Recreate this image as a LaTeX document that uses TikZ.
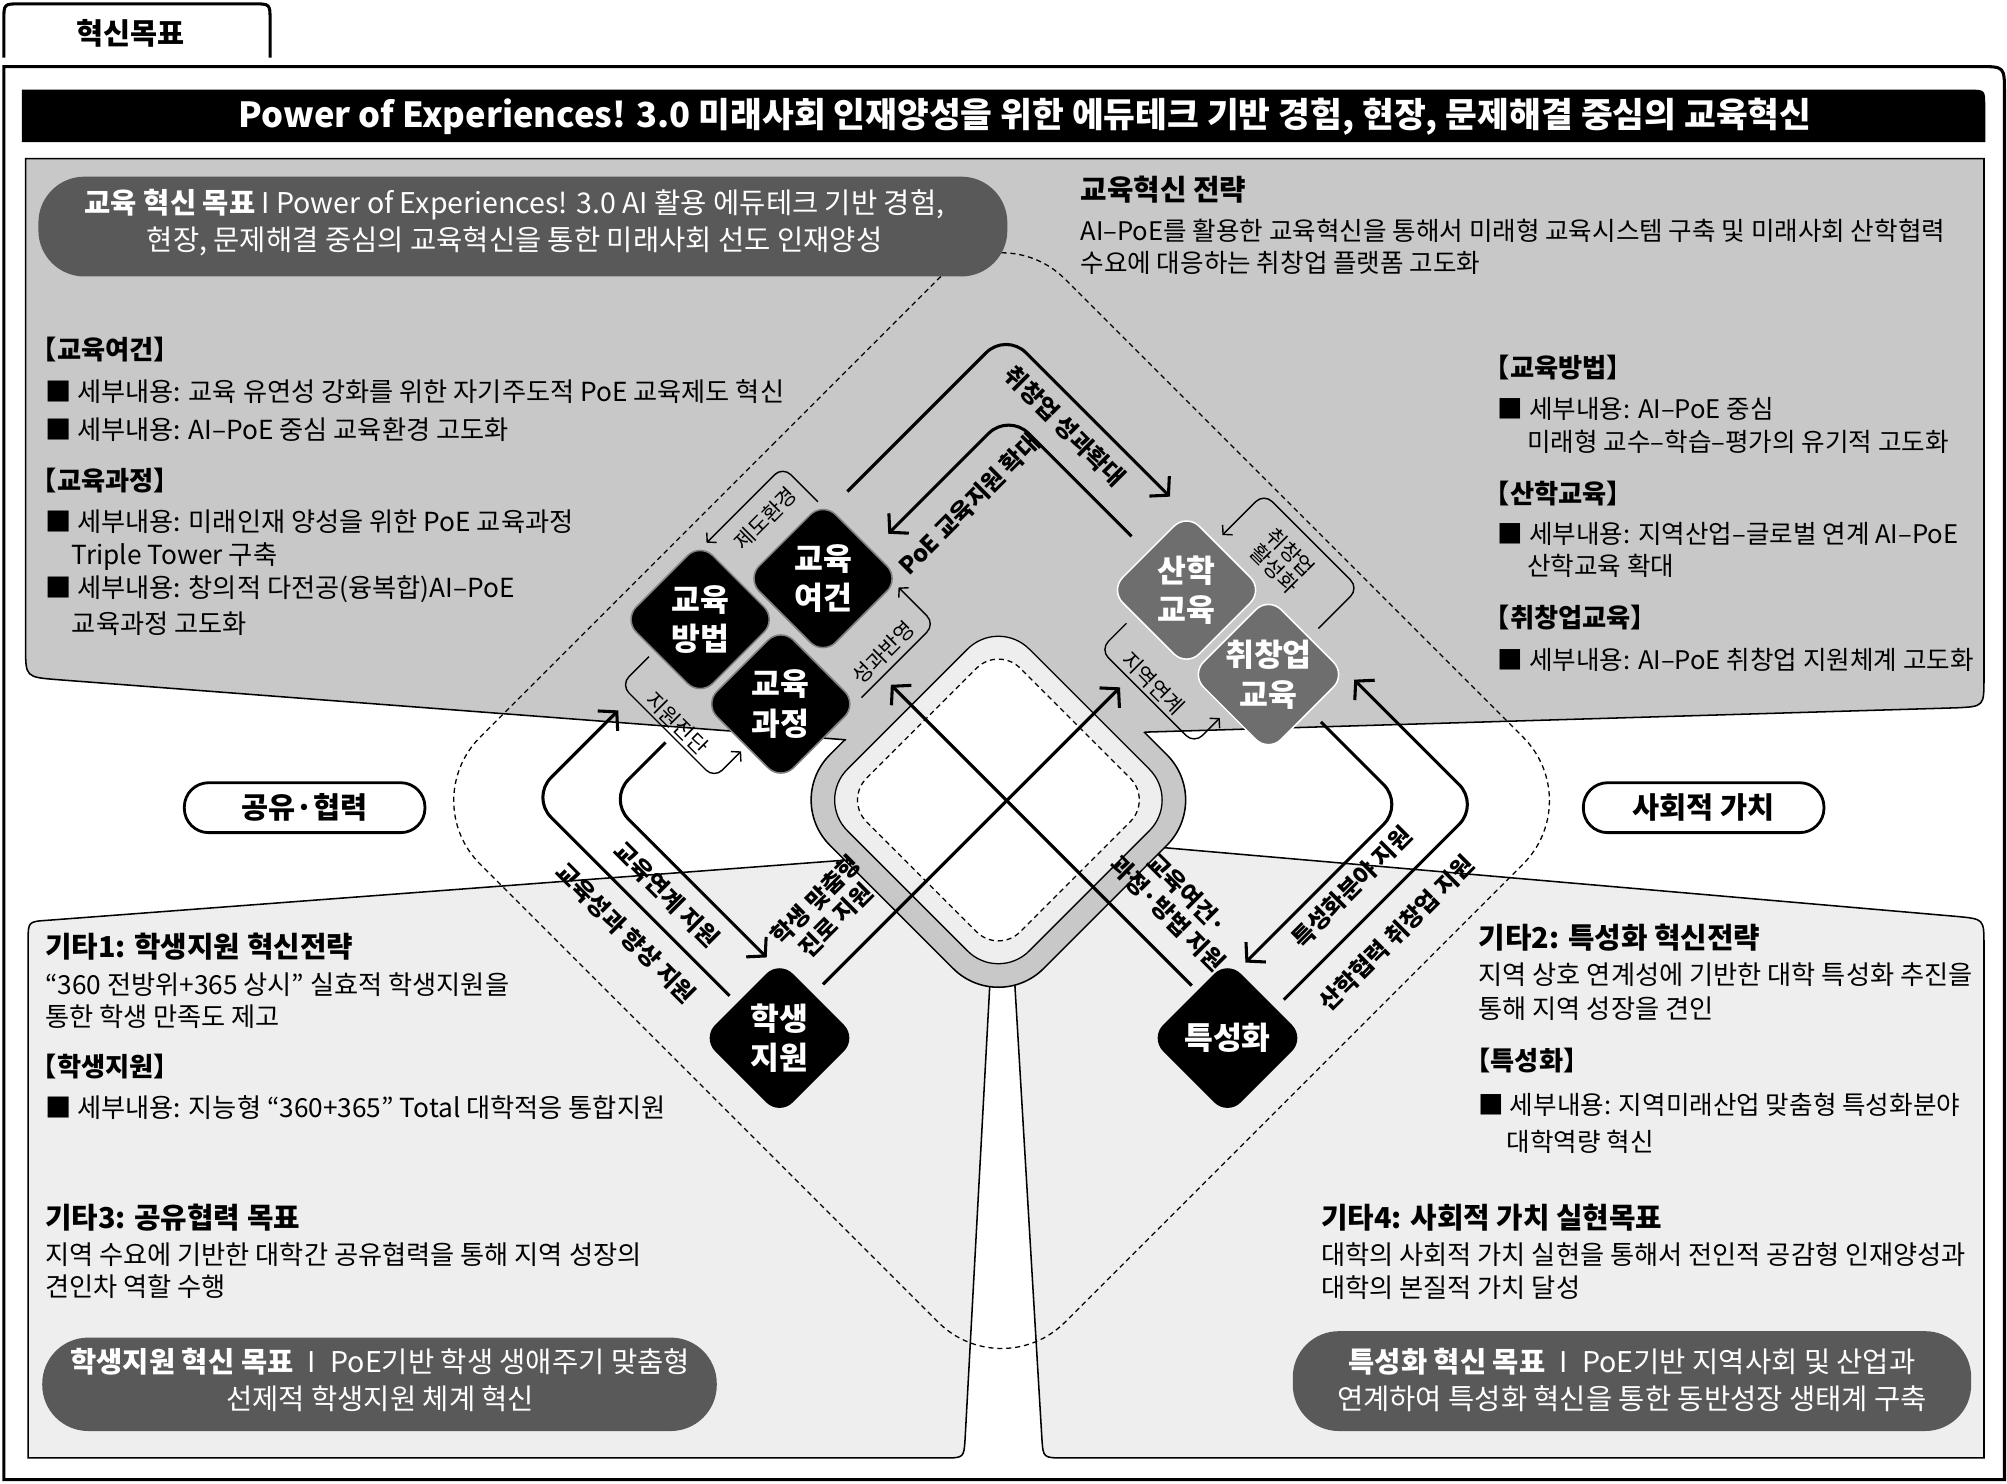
\documentclass[tikz,border=0pt]{standalone}
\usepackage{fontspec}
\setmainfont{Noto Sans CJK KR}
\usetikzlibrary{shapes.geometric,arrows.meta}

\definecolor{topgray}{HTML}{C8C8C8}
\definecolor{lowgray}{HTML}{EEEEEE}
\definecolor{pillgray}{HTML}{595959}
\definecolor{boxgray}{HTML}{6E6E6E}

% rounded square standing on a corner: centre x, centre y, half diagonal
\newcommand\rdia[3]{(#1-#3/2,#2-#3/2) -- (#1,#2-#3) -- (#1+#3,#2) -- (#1,#2+#3) -- (#1-#3,#2) -- cycle}

\tikzset{
  txt/.style={anchor=base west, inner sep=0pt, font=\fontsize{20.5}{24}\selectfont},
  rtxt/.style={txt, font=\fontsize{20}{24}\selectfont},
  hd/.style={anchor=base west, inner sep=0pt, font=\fontsize{20.5}{24}\selectfont\bfseries},
  hdb/.style={hd, font=\fontsize{22.5}{26}\selectfont\bfseries},
  box/.style={diamond, aspect=1, minimum size=120pt, inner sep=0pt, rounded corners=14pt,
    line width=1.2pt, fill=black, draw=gray, text=white, align=center,
    font=\fontsize{24.5}{31}\selectfont\bfseries},
  gbox/.style={box, fill=boxgray, draw=white},
  flow/.style={line width=2.4pt, rounded corners=22pt, -{Straight Barb[length=10pt,width=22pt]}},
  loopback/.style={line width=1.1pt, rounded corners=9pt, -{Straight Barb[length=5pt,width=11pt]}},
  flab/.style={inner sep=0pt, align=center, font=\fontsize{18.5}{22}\selectfont\bfseries},
  llab/.style={inner sep=0pt, align=center, font=\fontsize{16.5}{18}\selectfont},
  pill/.style={fill=pillgray, rounded corners=36pt},
  ptxt/.style={inner sep=0pt, text=white, align=center, font=\fontsize{22.3}{29}\selectfont},
  tag/.style={draw, line width=2.2pt, fill=white, rounded corners=19pt, minimum width=188pt,
    minimum height=39pt, font=\fontsize{23}{26}\selectfont\bfseries},
}

\begin{document}
\begin{tikzpicture}[x=1pt,y=-1pt]
\useasboundingbox (0,0) rectangle (1568,1159);

% lower panels
\draw[fill=lowgray, line width=1.2pt] (22,1139) -- (22,735) .. controls (22,720) .. (37,719) -- (700,669) -- (775,738) -- (754,1124) .. controls (753,1139) .. (738,1139) -- cycle;
\draw[fill=lowgray, line width=1.2pt] (831,1139) .. controls (815,1139) .. (814,1124) -- (791,738) -- (860,662) -- (895,661) -- (1529,716) .. controls (1550,718) .. (1550,738) -- (1550,1139) -- cycle;

% upper panel with its funnel
\fill[topgray] (661,578) -- (45,531) .. controls (20,529) .. (20,506) -- (20,124) -- (1550,124) -- (1550,530) .. controls (1550,552) .. (1528,553) -- (894,572) -- cycle;
\fill[topgray, rounded corners=50pt] \rdia{780}{625}{167};
\draw[line width=1.2pt] (661,578) -- (45,531) .. controls (20,529) .. (20,506) -- (20,124) -- (1550,124) -- (1550,530) .. controls (1550,552) .. (1528,553) -- (894,572);
\begin{scope}
\clip (0,578) -- (661,578) -- (894,572) -- (1568,572) -- (1568,1159) -- (0,1159) -- cycle;
\draw[line width=1.2pt, rounded corners=50pt] \rdia{780}{625}{167};
\end{scope}
\draw[fill=lowgray, line width=1pt, rounded corners=34pt] \rdia{780}{625}{142};
\draw[fill=white, line width=1pt, dash pattern=on 4pt off 3pt, rounded corners=24pt] \rdia{780}{625}{120};

% big dashed frame round the diamonds
\draw[line width=1pt, dash pattern=on 4pt off 3pt, rounded corners=70pt] \rdia{782.5}{625.5}{457};

% frame, tab, title
\draw[line width=2.4pt] (3,52) -- (1546,52) .. controls (1566,52) .. (1566,72) -- (1566,1156) -- (3,1156) -- cycle;
\draw[line width=2.4pt] (3,45) -- (3,16) .. controls (3,3) .. (16,3) -- (198,3) .. controls (211,3) .. (211,16) -- (211,45);
\node[font=\fontsize{23}{26}\selectfont\bfseries] (tab) at (102,26) {혁신목표};
\fill (17,70) -- (1538,70) .. controls (1551,70) .. (1551,83) -- (1551,111) -- (17,111) -- cycle;
\node[text=white, font=\fontsize{27}{30}\selectfont\bfseries] (title) at (801,91) {Power of Experiences! 3.0 미래사회 인재양성을 위한 에듀테크 기반 경험, 현장, 문제해결 중심의 교육혁신};

% goal pills
\fill[pill] (30,138) rectangle (787,216);
\node[ptxt] (goal) at (402,174) {{\bfseries 교육 혁신 목표} I Power of Experiences! 3.0 AI 활용 에듀테크 기반 경험,\\현장, 문제해결 중심의 교육혁신을 통한 미래사회 선도 인재양성};
\fill[pill] (33,1045) rectangle (560,1118);
\node[ptxt] (goalst) at (297,1078) {{\bfseries 학생지원 혁신 목표}\enspace I\enspace PoE기반 학생 생애주기 맞춤형\\선제적 학생지원 체계 혁신};
\fill[pill] (1010,1040) rectangle (1540,1118);
\node[ptxt] (goalsp) at (1275,1078) {{\bfseries 특성화 혁신 목표}\enspace I\enspace PoE기반 지역사회 및 산업과\\연계하여 특성화 혁신을 통한 동반성장 생태계 구축};

\node[tag] (share) at (238,631) {공유·협력};
\node[tag] (social) at (1331,631) {사회적 가치};

% upper texts
\node[hdb] (stratH) at (844,157) {교육혁신 전략};
\node[rtxt] (strat1) at (844,188) {AI–PoE를 활용한 교육혁신을 통해서 미래형 교육시스템 구축 및 미래사회 산학협력};
\node[rtxt] (strat2) at (844,213) {수요에 대응하는 취창업 플랫폼 고도화};
\node[hd] (envH) at (24,281) {【교육여건】};
\node[txt] (env1) at (35,314) {■ 세부내용: 교육 유연성 강화를 위한 자기주도적 PoE 교육제도 혁신};
\node[txt] (env2) at (35,343) {■ 세부내용: AI–PoE 중심 교육환경 고도화};
\node[hd] (curH) at (24,383) {【교육과정】};
\node[txt] (cur1) at (35,415) {■ 세부내용: 미래인재 양성을 위한 PoE 교육과정};
\node[txt] (cur1b) at (56,441) {Triple Tower 구축};
\node[txt] (cur2) at (35,467) {■ 세부내용: 창의적 다전공(융복합)AI–PoE};
\node[txt] (cur2b) at (56,495) {교육과정 고도화};
\node[hd] (metH) at (1159,295) {【교육방법】};
\node[rtxt] (met1) at (1170,327) {■ 세부내용: AI–PoE 중심};
\node[rtxt] (met1b) at (1193,353) {미래형 교수–학습–평가의 유기적 고도화};
\node[hd] (indH) at (1159,393) {【산학교육】};
\node[rtxt] (ind1) at (1170,425) {■ 세부내용: 지역산업–글로벌 연계 AI–PoE};
\node[rtxt] (ind1b) at (1193,450) {산학교육 확대};
\node[hd] (jobH) at (1159,490) {【취창업교육】};
\node[rtxt] (job1) at (1170,523) {■ 세부내용: AI–PoE 취창업 지원체계 고도화};

% lower texts
\node[hdb] (st1H) at (35,748) {기타1: 학생지원 혁신전략};
\node[txt] (st1a) at (35,777) {“360 전방위+365 상시” 실효적 학생지원을};
\node[txt] (st1b) at (35,802) {통한 학생 만족도 제고};
\node[hd] (stH) at (24,841) {【학생지원】};
\node[txt] (st1c) at (35,873) {■ 세부내용: 지능형 “360+365” Total 대학적응 통합지원};
\node[hdb] (co3H) at (35,960) {기타3: 공유협력 목표};
\node[txt] (co3a) at (35,988) {지역 수요에 기반한 대학간 공유협력을 통해 지역 성장의};
\node[txt] (co3b) at (35,1013) {견인차 역할 수행};
\node[hdb] (sp2H) at (1155,741) {기타2: 특성화 혁신전략};
\node[txt] (sp2a) at (1155,769) {지역 상호 연계성에 기반한 대학 특성화 추진을};
\node[txt] (sp2b) at (1155,796) {통해 지역 성장을 견인};
\node[hd] (spH) at (1144,836) {【특성화】};
\node[rtxt] (sp2c) at (1155,871) {■ 세부내용: 지역미래산업 맞춤형 특성화분야};
\node[rtxt] (sp2d) at (1177,900) {대학역량 혁신};
\node[hdb] (so4H) at (1032,960) {기타4: 사회적 가치 실현목표};
\node[txt] (so4a) at (1032,988) {대학의 사회적 가치 실현을 통해서 전인적 공감형 인재양성과};
\node[txt] (so4b) at (1032,1014) {대학의 본질적 가치 달성};

% bends and ends of the connectors
\coordinate (a0) at (662,384); \coordinate (a1) at (786,260); \coordinate (a2) at (914,388);
\coordinate (b0) at (884,419); \coordinate (b1) at (788,323); \coordinate (b2) at (694,417);
\coordinate (c0) at (570,778); \coordinate (c1) at (415,623); \coordinate (c2) at (483,555);
\coordinate (d0) at (520,580); \coordinate (d1) at (475.5,624.5); \coordinate (d2) at (599,748);
\coordinate (e0) at (643,769); \coordinate (e1) at (875,537);
\coordinate (f0) at (931,770); \coordinate (f1) at (696,535);
\coordinate (g0) at (1032,564); \coordinate (g1) at (1096.5,628.5); \coordinate (g2) at (973,752);
\coordinate (h0) at (1003,781); \coordinate (h1) at (1155.5,628.5); \coordinate (h2) at (1058,531);
\coordinate (j0) at (639,392); \coordinate (j1) at (611.5,364.5); \coordinate (j2) at (552,424);
\coordinate (k0) at (673,545); \coordinate (k1) at (730.5,487.5); \coordinate (k2) at (702,459);
\coordinate (m0) at (507,513); \coordinate (m1) at (485,535); \coordinate (m2) at (558,608); \coordinate (m3) at (579,587);
\coordinate (n0) at (1030,491); \coordinate (n1) at (1061.5,459.5); \coordinate (n2) at (987.5,385.5); \coordinate (n3) at (955,418);
\coordinate (p0) at (880,487); \coordinate (p1) at (859.5,507.5); \coordinate (p2) at (933,581); \coordinate (p3) at (953,561);

\draw[flow] (a0) -- (a1) -- (a2);
\draw[flow] (b0) -- (b1) -- (b2);
\draw[flow] (c0) -- (c1) -- (c2);
\draw[flow] (d0) -- (d1) -- (d2);
\draw[flow] (e0) -- (e1);
\draw[flow] (f0) -- (f1);
\draw[flow] (g0) -- (g1) -- (g2);
\draw[flow] (h0) -- (h1) -- (h2);
\draw[loopback] (j0) -- (j1) -- (j2);
\draw[loopback] (k0) -- (k1) -- (k2);
\draw[loopback] (m0) -- (m1) -- (m2) -- (m3);
\draw[loopback] (n0) -- (n1) -- (n2) -- (n3);
\draw[loopback] (p0) -- (p1) -- (p2) -- (p3);

% diamonds
\node[box] (method) at (547,484) {교육\\방법};
\node[box] (cond) at (643,452) {교육\\여건};
\node[box] (curr) at (610,550) {교육\\과정};
\node[gbox] (indus) at (927,461) {산학\\교육};
\node[gbox] (career) at (991,527) {취창업\\교육};
\node[box, draw=black] (student) at (609,811) {학생\\지원};
\node[box, draw=black] (special) at (959,811) {특성화};

% connector labels
\node[flab, rotate=-45] (la) at (832,333) {취창업 성과확대};
\node[flab, rotate=45] (lb) at (757,394) {PoE 교육지원 확대};
\node[flab, rotate=-45] (lc) at (489,729) {교육성과 향상 지원};
\node[flab, rotate=-45] (ld) at (521,699) {교육연계 지원};
\node[flab, rotate=45] (le) at (645,711) {학생 맞춤형\\진로 지원};
\node[flab, rotate=-45] (lf) at (920,706) {교육여건·\\과정·방법 지원};
\node[flab, rotate=45] (lg) at (1056,693) {특성화분야 지원};
\node[flab, rotate=45] (lh) at (1091,729) {산학협력 취창업 지원};
\node[llab, rotate=45] (lj) at (598,405) {제도환경};
\node[llab, rotate=45] (lk) at (690,510) {성과반영};
\node[llab, rotate=-45] (lm) at (529,565) {지원진단};
\node[llab, rotate=-45] (ln) at (1002,438) {취창업\\활성화};
\node[llab, rotate=-45] (lp) at (901,534) {지역연계};
\end{tikzpicture}
\end{document}
